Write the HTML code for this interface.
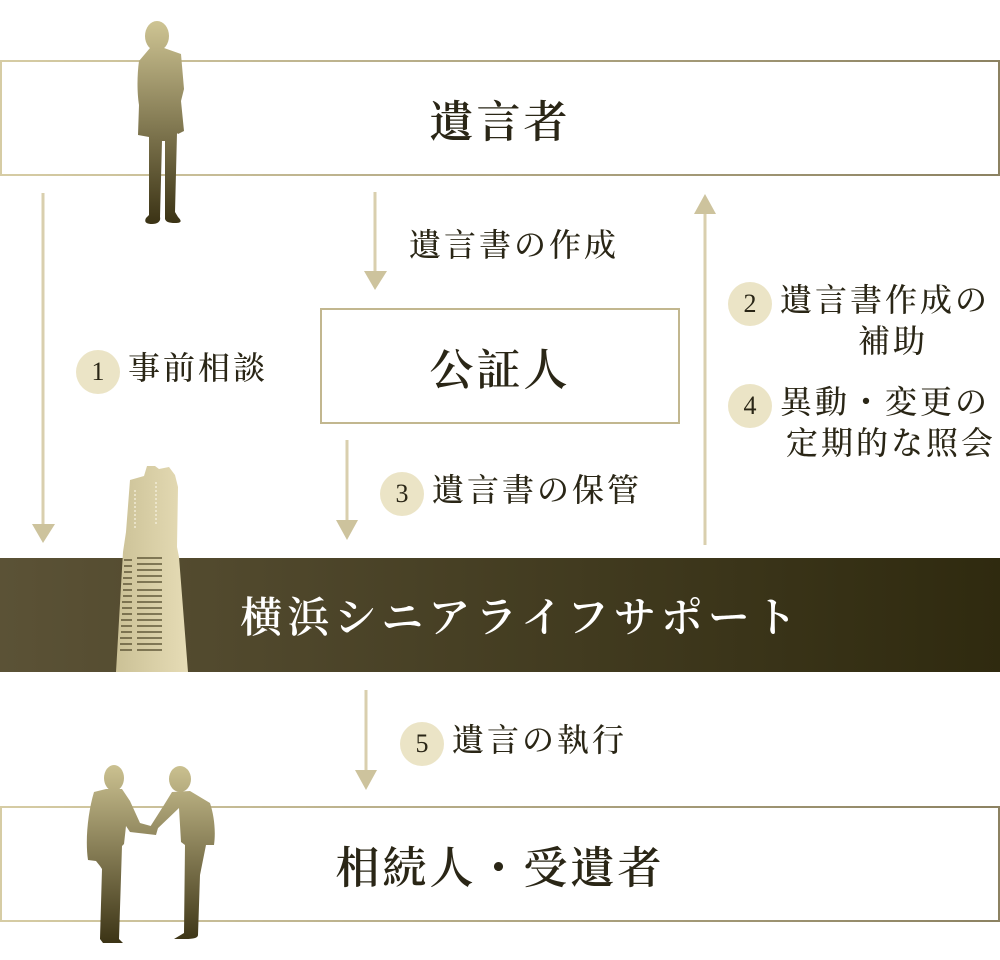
<!DOCTYPE html>
<html><head><meta charset="utf-8"><style>
body{margin:0;width:1000px;height:960px;background:#fff;position:relative;overflow:hidden;font-family:"Liberation Serif","Noto Serif CJK SC",serif;color:#2a2616}
.box{position:absolute;box-sizing:border-box;border:2px solid #b9ae85;display:flex;align-items:center;justify-content:center;font-size:44px;letter-spacing:3px;font-weight:600}
.t{position:absolute;font-size:32px;white-space:nowrap;line-height:40px;letter-spacing:3px;font-weight:500}
.c{display:inline-block;width:44px;height:44px;border-radius:50%;background:#ebe4c6;text-align:center;line-height:44px;font-size:26px;margin-right:8px;vertical-align:middle;letter-spacing:0;font-weight:normal}
svg{position:absolute;left:0;top:0}
</style></head><body>
<div class="box" style="left:0;top:60px;width:1000px;height:116px;border-image:linear-gradient(90deg,#d6cca4,#8c8262) 1">遺言者</div>
<div class="box" style="left:320px;top:308px;width:360px;height:116px;border-color:#c2b78f">公証人</div>
<div style="position:absolute;left:0;top:558px;width:1000px;height:114px;background:linear-gradient(90deg,#5b5236,#2f2a0f);color:#fff;font-size:42px;letter-spacing:5px;display:flex;align-items:center;justify-content:center;font-weight:600;padding-left:42px;box-sizing:border-box">横浜シニアライフサポート</div>
<div class="box" style="left:0;top:806px;width:1000px;height:116px;border-image:linear-gradient(90deg,#d6cca4,#8c8262) 1">相続人・受遺者</div>

<svg width="1000" height="960">
<defs>
<linearGradient id="g2" gradientUnits="userSpaceOnUse" x1="0" y1="760" x2="0" y2="945"><stop offset="0" stop-color="#cfc594"/><stop offset="1" stop-color="#3a3214"/></linearGradient>
<linearGradient id="g1" gradientUnits="userSpaceOnUse" x1="0" y1="20" x2="0" y2="225"><stop offset="0" stop-color="#cfc594"/><stop offset="1" stop-color="#3a3214"/></linearGradient>
<linearGradient id="b" x1="0" y1="0" x2="1" y2="0"><stop offset="0" stop-color="#cbc196"/><stop offset="1" stop-color="#e6dcb6"/></linearGradient>
</defs>
<g fill="#cdc39d" stroke="#d9cfae" stroke-width="3">
<line x1="43" y1="193" x2="43" y2="528"/><polygon stroke="none" points="32,524 55,524 43,543"/>
<line x1="375" y1="192" x2="375" y2="275"/><polygon stroke="none" points="364,271 387,271 375,290"/>
<line x1="705" y1="545" x2="705" y2="210"/><polygon stroke="none" points="694,214 716,214 705,194"/>
<line x1="347" y1="440" x2="347" y2="524"/><polygon stroke="none" points="336,520 358,520 347,540"/>
<line x1="366" y1="690" x2="366" y2="774"/><polygon stroke="none" points="355,770 377,770 366,790"/>
</g>
<g fill="url(#g1)">
<ellipse cx="157" cy="36" rx="12" ry="15"/>
<path d="M150,48l14,0l17,6l3,35l-3,12l3,30l-6,3l-1,-1l-2,79l3,5c3,3 5,6 -3,6c-6,0 -9,-1 -10,-4l0,-78l-3,0l-2,76c1,4 -2,7 -8,7c-6,0 -8,-2 -6,-6l3,-3l0,-78l-11,-2l1,-30c-2,-12 -2,-30 0,-44z"/>
</g>
<path fill="url(#b)" d="M130,480l14,-4l3,-10l8,0l4,3l10,-2l6,8l3,12l-1,60l2,10l9,115h-72l7,-120l3,-20z"/>
<g stroke="#f5f0dd" stroke-width="1.3" stroke-dasharray="2 2">
<line x1="135" y1="490" x2="135" y2="530"/><line x1="156" y1="482" x2="156" y2="525"/>
</g>
<g stroke="#4a4224" stroke-width="1.2">
<path d="M124,560h8M137,558h25M124,566h8M137,564h25M124,572h8M137,570h25M123,578h9M137,576h25M123,584h9M137,582h25M123,590h9M137,590h25M123,596h9M137,596h25M122,602h10M137,602h25M122,608h10M137,608h25M122,614h10M137,614h25M121,620h11M137,620h25M121,626h11M137,626h25M121,632h11M137,632h25M120,638h12M137,638h25M120,644h12M137,644h25M120,650h12M137,650h25"/>
</g>
<g fill="url(#g2)">
<ellipse cx="114" cy="778" rx="10" ry="13"/>
<path d="M106,789l16,0l8,12l10,22l18,5l-2,7l-26,-3l-4,-6l-2,18l-2,2l-3,93l4,4h-20l-3,-4l2,-70l-2,-3l-4,-5l-8,-1c-3,-20 0,-48 6,-68z"/>
<ellipse cx="180" cy="779" rx="11" ry="13"/>
<path d="M172,792l18,-1l20,12c4,12 6,28 4,42l-8,0l-6,30l-2,60c0,3 -5,4 -12,4h-12l10,-6l1,-88l-4,-3l-2,-34l-24,23l-5,-4l14,-22z"/>
</g>
</svg>

<div class="t" style="left:409px;top:225px">遺言書の作成</div>
<div class="t" style="left:76px;top:348px"><span class="c">1</span>事前相談</div>
<div class="t" style="left:728px;top:280px"><span class="c">2</span>遺言書作成の</div>
<div class="t" style="left:858px;top:321px">補助</div>
<div class="t" style="left:728px;top:382px"><span class="c">4</span>異動・変更の</div>
<div class="t" style="left:786px;top:423px">定期的な照会</div>
<div class="t" style="left:380px;top:470px"><span class="c">3</span>遺言書の保管</div>
<div class="t" style="left:400px;top:720px"><span class="c">5</span>遺言の執行</div>
</body></html>
